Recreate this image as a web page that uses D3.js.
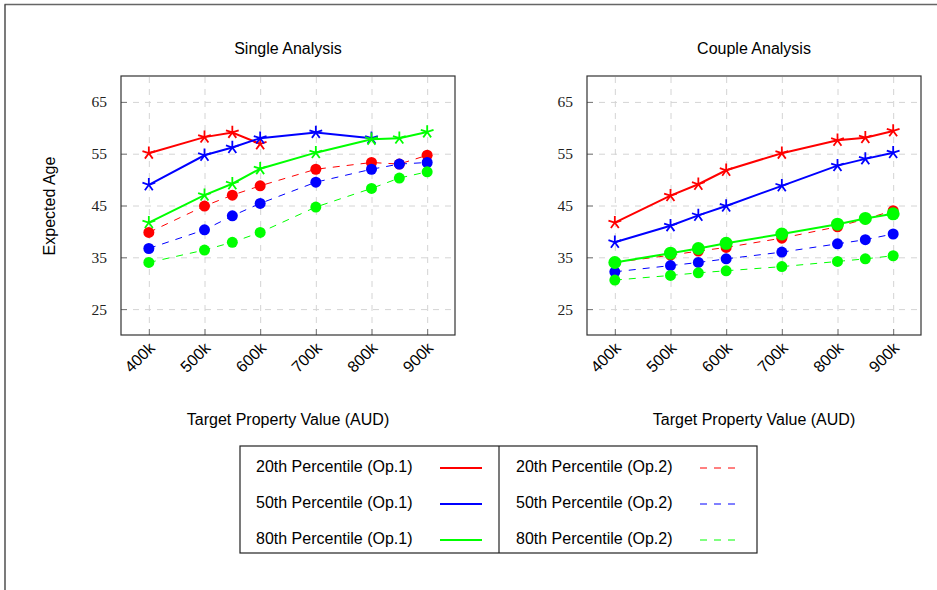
<!DOCTYPE html>
<html>
<head>
<meta charset="utf-8">
<script src="https://cdn.jsdelivr.net/npm/d3@7"></script>
<style>
  body { margin: 0; background: #fff; }
  svg { font-family: "Liberation Sans", Arial, sans-serif; }
  .grid line { stroke: #d4d4d4; stroke-dasharray: 6 6; }
  .grid path { display: none; }
  .ticks path { display: none; }
  .ticks line { stroke: #777; }
  .ytick { font-family: "Liberation Serif", serif; font-size: 15.5px; fill: #222; }
</style>
</head>
<body>
<svg width="937" height="590"></svg>
<script>
// x values (thousand AUD) and tick labels
const xValues = [400, 500, 550, 600, 700, 800, 850, 900];
const xTicks = [400, 500, 600, 700, 800, 900];
const yTicks = [25, 35, 45, 55, 65];

// Single analysis
const single20op1 = [55.1, 58.2, 59.1, 56.9];
const single50op1 = [49.0, 54.7, 56.2, 58.0, 59.1, 58.0];
const single80op1 = [41.7, 47.0, 49.2, 52.1, 55.2, 57.8, 58.0, 59.2];
const single20op2 = [39.8, 44.9, 47.0, 48.8, 52.0, 53.3, 53.0, 54.7];
const single50op2 = [36.7, 40.3, 43.0, 45.4, 49.5, 52.0, 53.0, 53.3];
const single80op2 = [34.0, 36.4, 37.9, 39.8, 44.7, 48.3, 50.3, 51.5];

// Couple analysis
const couple20op1 = [41.7, 46.9, 49.1, 51.8, 55.1, 57.6, 58.1, 59.4];
const couple50op1 = [37.9, 41.1, 43.1, 44.9, 48.8, 52.7, 54.0, 55.2];
const couple80op1 = [34.0, 35.8, 36.7, 37.7, 39.5, 41.4, 42.5, 43.4];
const couple20op2 = [34.0, 35.4, 36.2, 36.9, 38.7, 40.9, 42.4, 44.0];
const couple50op2 = [32.2, 33.4, 34.0, 34.7, 36.0, 37.6, 38.4, 39.5];
const couple80op2 = [30.6, 31.5, 32.0, 32.4, 33.2, 34.2, 34.7, 35.3];

const red = "#ff0000", blue = "#0000ff", green = "#00ff00";

var svg = d3.select("svg");

// outer frame (top and left edges)
svg.append("line").attr("x1", 4.5).attr("x2", 937).attr("y1", 4.5).attr("y2", 4.5)
  .attr("stroke", "#666").attr("stroke-width", 1.3);
svg.append("line").attr("x1", 5).attr("x2", 5).attr("y1", 4.5).attr("y2", 590)
  .attr("stroke", "#333").attr("stroke-width", 1.3);

// 5 armed star like pgfplots "star"
const star = {
  draw(context, size) {
    const r = Math.sqrt(size) / 2;
    for (let k = 0; k < 5; k++) {
      const a = -Math.PI / 2 + k * 2 * Math.PI / 5;
      context.moveTo(0, 0);
      context.lineTo(r * Math.cos(a), r * Math.sin(a));
    }
  }
};

var width = 334, height = 259;

function panel(left, title, series, showYLabel) {
  var g = svg.append("g").attr("transform", "translate(" + left + ",76)");

  var x = d3.scaleLinear().domain([350, 950]).range([0, width]);
  var y = d3.scaleLinear().domain([20, 70]).range([height, 0]);

  // grid
  g.append("g").attr("class", "grid")
    .attr("transform", "translate(0," + height + ")")
    .call(d3.axisBottom(x).tickValues(xTicks).tickSize(-height).tickFormat(""));
  g.append("g").attr("class", "grid")
    .call(d3.axisLeft(y).tickValues(yTicks).tickSize(-width).tickFormat(""));

  // inward ticks
  g.append("g").attr("class", "ticks")
    .attr("transform", "translate(0," + height + ")")
    .call(d3.axisBottom(x).tickValues(xTicks).tickSize(-6).tickFormat(""));
  g.append("g").attr("class", "ticks")
    .call(d3.axisLeft(y).tickValues(yTicks).tickSize(-6).tickFormat(""));

  // tick labels
  g.selectAll(".xtick").data(xTicks).enter().append("text")
    .attr("class", "xtick")
    .attr("transform", (d) => "translate(" + (x(d) + 3) + "," + (height + 10) + ") rotate(-45)")
    .attr("text-anchor", "end")
    .attr("dy", "0.35em")
    .style("font-size", "16px")
    .text((d) => d + "k");

  g.selectAll(".ytick").data(yTicks).enter().append("text")
    .attr("class", "ytick")
    .attr("x", -14)
    .attr("y", (d) => y(d))
    .attr("dy", "0.35em")
    .attr("text-anchor", "end")
    .text((d) => d);

  // series
  series.forEach((s) => {
    var pts = s.values.map((v, i) => [xValues[i], v]);
    var line = d3.line().x((d) => x(d[0])).y((d) => y(d[1]));
    g.append("path")
      .datum(pts)
      .attr("fill", "none")
      .attr("stroke", s.color)
      .attr("stroke-width", s.dashed ? 1 : 2)
      .attr("stroke-dasharray", s.dashed ? "7 7" : null)
      .attr("d", line);

    if (s.mark === "star") {
      g.selectAll(null).data(pts).enter().append("path")
        .attr("transform", (d) => "translate(" + x(d[0]) + "," + y(d[1]) + ")")
        .attr("d", d3.symbol().type(star).size(180))
        .attr("fill", "none")
        .attr("stroke", s.color)
        .attr("stroke-width", 1.8);
    } else {
      g.selectAll(null).data(pts).enter().append("circle")
        .attr("cx", (d) => x(d[0]))
        .attr("cy", (d) => y(d[1]))
        .attr("r", s.r || 5.5)
        .attr("fill", s.color);
    }
  });

  // frame
  g.append("rect").attr("width", width).attr("height", height)
    .attr("fill", "none").attr("stroke", "#333").attr("stroke-width", 1.2);

  // labels
  svg.append("text")
    .attr("x", left + width / 2).attr("y", 54)
    .attr("text-anchor", "middle")
    .style("font-size", "16px")
    .text(title);

  svg.append("text")
    .attr("x", left + width / 2).attr("y", 425)
    .attr("text-anchor", "middle")
    .style("font-size", "16px")
    .text("Target Property Value (AUD)");

  if (showYLabel) {
    svg.append("text")
      .attr("transform", "translate(55,206) rotate(-90)")
      .attr("text-anchor", "middle")
      .style("font-size", "16px")
      .text("Expected Age");
  }
}

panel(121, "Single Analysis", [
  { values: single20op2, color: red, dashed: true, mark: "circle" },
  { values: single50op2, color: blue, dashed: true, mark: "circle" },
  { values: single80op2, color: green, dashed: true, mark: "circle" },
  { values: single20op1, color: red, mark: "star" },
  { values: single50op1, color: blue, mark: "star" },
  { values: single80op1, color: green, mark: "star" }
], true);

panel(587, "Couple Analysis", [
  { values: couple20op2, color: red, dashed: true, mark: "circle" },
  { values: couple50op2, color: blue, dashed: true, mark: "circle" },
  { values: couple80op2, color: green, dashed: true, mark: "circle" },
  { values: couple20op1, color: red, mark: "star" },
  { values: couple50op1, color: blue, mark: "star" },
  { values: couple80op1, color: green, mark: "circle", r: 6.5 }
], false);

// legend
const legendLabels = [
  "20th Percentile (Op.1)", "50th Percentile (Op.1)", "80th Percentile (Op.1)",
  "20th Percentile (Op.2)", "50th Percentile (Op.2)", "80th Percentile (Op.2)"
];
const legendColors = [red, blue, green, red, blue, green];

var lg = svg.append("g").attr("transform", "translate(240,446)");
lg.append("rect").attr("width", 517).attr("height", 107)
  .attr("fill", "none").attr("stroke", "#222").attr("stroke-width", 1.2);
lg.append("line").attr("x1", 259).attr("x2", 259).attr("y1", 0).attr("y2", 107)
  .attr("stroke", "#222").attr("stroke-width", 1.2);

legendLabels.forEach((label, i) => {
  var col = Math.floor(i / 3), row = i % 3;
  var ox = col * 260, oy = 20 + row * 36;
  lg.append("text")
    .attr("x", ox + 16).attr("y", oy)
    .attr("dy", "0.35em")
    .style("font-size", "16px")
    .text(label);
  lg.append("line")
    .attr("x1", ox + 200).attr("x2", ox + 242)
    .attr("y1", oy + 2).attr("y2", oy + 2)
    .attr("stroke", legendColors[i])
    .attr("stroke-width", col === 0 ? 2 : 1)
    .attr("stroke-dasharray", col === 0 ? null : "7 7");
});
</script>
</body>
</html>
